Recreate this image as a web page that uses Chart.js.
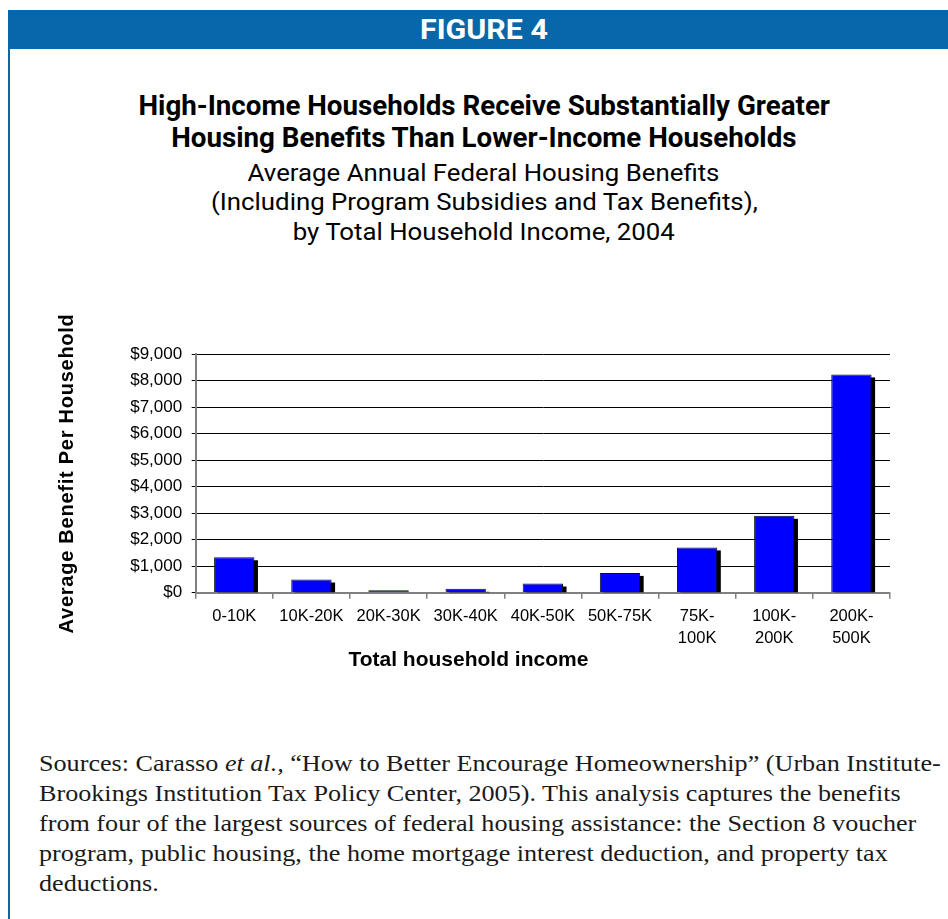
<!DOCTYPE html>
<html>
<head>
<meta charset="utf-8">
<title>Figure 4 – Housing Benefits by Household Income</title>
<script src="https://cdn.jsdelivr.net/npm/chart.js@4/dist/chart.umd.min.js"></script>
<style>
  html, body { margin: 0; padding: 0; }
  body { width: 948px; height: 919px; background: #fff; position: relative; overflow: hidden; }
  #header { position: absolute; left: 8px; top: 10px; width: 940px; height: 39px; background: #0767a8; }
  #rule { position: absolute; left: 8px; top: 10px; width: 2px; height: 909px; background: #0767a8; }
  .line { position: absolute; text-align: center; white-space: nowrap; }
  .line span { display: inline-block; transform-origin: 50% 50%; }
  #fig { left: 0; width: 968px; top: 10px; height: 39px; line-height: 39px; color: #fff;
    font-family: Roboto, "Liberation Sans", sans-serif; font-weight: bold; font-size: 28px; }
  .tl { left: 84px; width: 800px; height: 30px; line-height: 30px; color: #000;
    font-family: Roboto, "Liberation Sans", sans-serif; }
  .tl.b { font-weight: bold; font-size: 28px; }
  .tl.r { font-weight: normal; font-size: 24px; }
  #chartwrap { position: absolute; left: 40px; top: 300px; width: 856px; height: 379px; }
  #source { position: absolute; left: 39px; top: 748px; color: #1a1a1a;
    font-family: "Liberation Serif", "DejaVu Serif", serif; font-size: 24px; line-height: 30px; }
  #source div { white-space: nowrap; height: 30px; }
  #source span { display: inline-block; transform-origin: 0 50%; }
</style>
</head>
<body>
<div id="header"></div>
<div id="rule"></div>
<div class="line" id="fig"><span data-fit="128">FIGURE 4</span></div>

<div class="line tl b" style="top:91px"><span class="g-title" data-fit="692">High-Income Households Receive Substantially Greater</span></div>
<div class="line tl b" style="top:123px"><span class="g-title">Housing Benefits Than Lower-Income Households</span></div>
<div class="line tl r" style="top:158px"><span class="g-sub">Average Annual Federal Housing Benefits</span></div>
<div class="line tl r" style="top:187px"><span class="g-sub" data-fit="547">(Including Program Subsidies and Tax Benefits),</span></div>
<div class="line tl r" style="top:217px"><span class="g-sub">by Total Household Income, 2004</span></div>

<div id="chartwrap"><canvas id="chart" width="856" height="379"></canvas></div>

<div id="source">
  <div><span class="g-src" data-fit="902">Sources: Carasso <i>et al.,</i> “How to Better Encourage Homeownership” (Urban Institute-</span></div>
  <div><span class="g-src">Brookings Institution Tax Policy Center, 2005). This analysis captures the benefits</span></div>
  <div><span class="g-src">from four of the largest sources of federal housing assistance: the Section 8 voucher</span></div>
  <div><span class="g-src">program, public housing, the home mortgage interest deduction, and property tax</span></div>
  <div><span class="g-src">deductions.</span></div>
</div>

<script>
// Income brackets (multi-line where the label wraps)
const incomeBrackets = [
  '0-10K', '10K-20K', '20K-30K', '30K-40K', '40K-50K', '50K-75K',
  ['75K-', '100K'], ['100K-', '200K'], ['200K-', '500K']
];

// Average annual federal housing benefit per household, 2004 (dollars)
const avgBenefit = [1340, 500, 100, 150, 350, 750, 1710, 2900, 8230];

// Value axis range and step
const yAxisMin = 0;
const yAxisMax = 9000;
const yAxisStep = 1000;

const yTitleText = 'Average Benefit Per Household';
const xTitleText = 'Total household income';

const SANS = '"Liberation Sans", Arial, sans-serif';

// Squeeze or widen each text group so its reference line hits the set width
function fitGroups() {
  const single = document.querySelector('#fig span');
  single.style.transform = 'scaleX(' + (single.dataset.fit / single.offsetWidth) + ')';
  ['g-title', 'g-sub', 'g-src'].forEach(cls => {
    const els = Array.from(document.getElementsByClassName(cls));
    const ref = els.find(e => e.dataset.fit);
    const s = ref.dataset.fit / ref.offsetWidth;
    els.forEach(e => { e.style.transform = 'scaleX(' + s + ')'; });
  });
}
fitGroups();

// Dark drop shadow behind each bar, offset down and to the right
const barShadow = {
  id: 'barShadow',
  beforeDatasetsDraw(chart, args, opts) {
    const ctx = chart.ctx;
    const meta = chart.getDatasetMeta(0);
    ctx.save();
    ctx.fillStyle = opts.color;
    meta.data.forEach(bar => {
      const p = bar.getProps(['x', 'y', 'base', 'width'], true);
      const h = p.base - p.y - opts.dy;
      if (h > 0) ctx.fillRect(p.x - p.width / 2 + opts.dx, p.y + opts.dy, p.width, h);
    });
    ctx.restore();
  }
};

// Tracked lettering for the rotated value-axis title
const spacedAxisTitle = {
  id: 'spacedAxisTitle',
  beforeDraw(chart, args, opts) {
    const scale = chart.scales.y;
    if (!scale || scale.__spaced) return;
    const orig = scale.drawTitle;
    scale.drawTitle = function () {
      this.ctx.save();
      this.ctx.letterSpacing = opts.spacing;
      orig.call(this);
      this.ctx.restore();
    };
    scale.__spaced = true;
  }
};

new Chart(document.getElementById('chart'), {
  type: 'bar',
  data: {
    labels: incomeBrackets,
    datasets: [{
      data: avgBenefit,
      backgroundColor: '#0000ff',
      borderColor: '#111',
      borderWidth: 1,
      barPercentage: 0.523,
      categoryPercentage: 1.0
    }]
  },
  options: {
    responsive: false,
    devicePixelRatio: 1,
    animation: false,
    layout: { padding: { left: 6.8, right: 6, top: 54, bottom: 0 } },
    plugins: {
      legend: { display: false },
      tooltip: { enabled: false },
      title: {
        display: true,
        position: 'bottom',
        text: xTitleText,
        color: '#000',
        font: { family: SANS, size: 21, weight: 'bold', lineHeight: 1.2 },
        padding: { top: 0, bottom: 6 }
      },
      barShadow: { color: '#000', dx: 3.5, dy: 3 },
      spacedAxisTitle: { spacing: '0.75px' }
    },
    scales: {
      x: {
        afterFit(scale) { scale.height = 55; },
        grid: { display: true, offset: true, drawOnChartArea: false, drawTicks: true,
                tickLength: 6, color: '#808080', lineWidth: 1.5 },
        border: { display: true, color: '#808080', width: 2 },
        ticks: { color: '#000', padding: 7, maxRotation: 0, autoSkip: false,
                 font: { family: SANS, size: 16.5, lineHeight: 1.3333 } }
      },
      y: {
        min: yAxisMin,
        max: yAxisMax,
        afterFit(scale) { scale.width = 148.9; },
        grid: { color: '#000', lineWidth: 1, drawTicks: true, tickLength: 4 },
        border: { display: true, color: '#808080', width: 2 },
        ticks: {
          stepSize: yAxisStep,
          color: '#000',
          padding: 9.5,
          font: { family: SANS, size: 17 },
          callback: v => '$' + Number(v).toLocaleString('en-US')
        },
        title: {
          display: true,
          text: yTitleText,
          color: '#000',
          font: { family: SANS, size: 20, weight: 'bold', lineHeight: 1.2 },
          padding: { top: 9, bottom: 0 }
        }
      }
    }
  },
  plugins: [barShadow, spacedAxisTitle]
});
</script>
</body>
</html>
